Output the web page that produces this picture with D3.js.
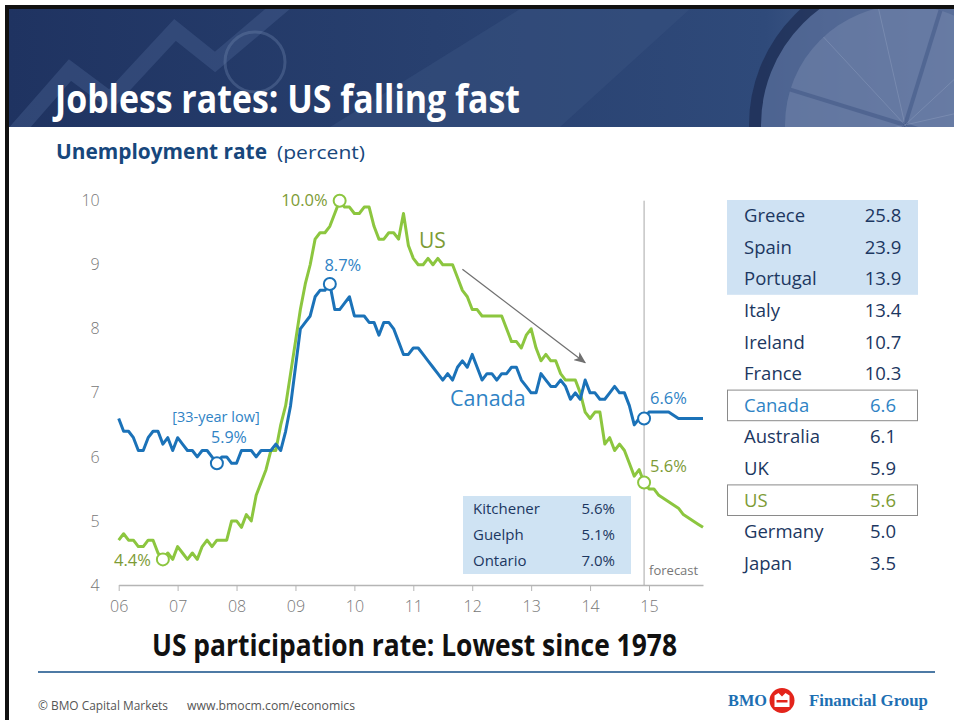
<!DOCTYPE html>
<html>
<head>
<meta charset="utf-8">
<script src="https://cdn.jsdelivr.net/npm/d3@7"></script>
<style>
    body { margin: 0; background: #fff; }
    svg { display: block; font-family: 'Open Sans', 'Noto Sans', sans-serif; }
</style>
</head>
<body>
<div id="content"></div>
<script>
// ******* DATA *******
// monthly, Jan 2006 .. Dec 2015 (2015 = forecast)
const yearLabels = ["06", "07", "08", "09", "10", "11", "12", "13", "14", "15"];

const canadaRate = [
    6.6, 6.4, 6.4, 6.3, 6.1, 6.1, 6.3, 6.4, 6.4, 6.2, 6.3, 6.1,   // 2006
    6.3, 6.2, 6.1, 6.1, 6.0, 6.1, 6.1, 6.0, 5.9, 6.0, 6.0, 5.9,   // 2007
    5.9, 6.1, 6.1, 6.1, 6.0, 6.1, 6.1, 6.1, 6.2, 6.1, 6.4, 6.8,   // 2008
    7.4, 8.0, 8.1, 8.2, 8.5, 8.6, 8.6, 8.7, 8.3, 8.3, 8.4, 8.5,   // 2009
    8.2, 8.2, 8.2, 8.1, 8.1, 7.9, 8.1, 8.1, 8.0, 7.8, 7.6, 7.6,   // 2010
    7.7, 7.7, 7.6, 7.5, 7.4, 7.3, 7.2, 7.3, 7.2, 7.4, 7.5, 7.4,   // 2011
    7.6, 7.4, 7.2, 7.3, 7.3, 7.2, 7.3, 7.3, 7.4, 7.4, 7.2, 7.1,   // 2012
    7.0, 7.0, 7.3, 7.2, 7.1, 7.1, 7.2, 7.1, 6.9, 7.0, 6.9, 7.2,   // 2013
    7.0, 7.0, 6.9, 6.9, 7.0, 7.1, 7.0, 7.0, 6.8, 6.5, 6.6, 6.6,   // 2014
    6.7, 6.7, 6.7, 6.7, 6.7, 6.65, 6.6, 6.6, 6.6, 6.6, 6.6, 6.6   // 2015 f
];

const usRate = [
    4.7, 4.8, 4.7, 4.7, 4.6, 4.6, 4.7, 4.7, 4.5, 4.4, 4.5, 4.4,   // 2006
    4.6, 4.5, 4.4, 4.5, 4.4, 4.6, 4.7, 4.6, 4.7, 4.7, 4.7, 5.0,   // 2007
    5.0, 4.9, 5.1, 5.0, 5.4, 5.6, 5.8, 6.1, 6.1, 6.5, 6.8, 7.3,   // 2008
    7.8, 8.3, 8.7, 9.0, 9.4, 9.5, 9.5, 9.6, 9.8, 10.0, 9.9, 9.9,  // 2009
    9.8, 9.8, 9.9, 9.9, 9.6, 9.4, 9.4, 9.5, 9.5, 9.4, 9.8, 9.3,   // 2010
    9.1, 9.0, 9.0, 9.1, 9.0, 9.1, 9.0, 9.0, 9.0, 8.8, 8.6, 8.5,   // 2011
    8.3, 8.3, 8.2, 8.2, 8.2, 8.2, 8.2, 8.0, 7.8, 7.8, 7.7, 7.9,   // 2012
    8.0, 7.7, 7.5, 7.6, 7.5, 7.5, 7.3, 7.2, 7.2, 7.2, 7.0, 6.7,   // 2013
    6.6, 6.7, 6.7, 6.2, 6.3, 6.1, 6.2, 6.1, 5.9, 5.7, 5.8, 5.6,   // 2014
    5.5, 5.5, 5.4, 5.35, 5.3, 5.25, 5.2, 5.1, 5.05, 5.0, 4.95, 4.9 // 2015 f
];

const forecastStart = 107;            // Dec 2014 = last actual
const usCallouts = [9, 45, forecastStart];      // 4.4%, 10.0%, 5.6%
const canadaCallouts = [20, 43, forecastStart]; // 5.9%, 8.7%, 6.6%
const trendArrow = [[70, 8.93], [95, 7.47]];    // [month index, rate]

const countryNames = ["Greece", "Spain", "Portugal", "Italy", "Ireland", "France",
    "Canada", "Australia", "UK", "US", "Germany", "Japan"];
const countryRates = ["25.8", "23.9", "13.9", "13.4", "10.7", "10.3",
    "6.6", "6.1", "5.9", "5.6", "5.0", "3.5"];
const shadedCountries = ["Greece", "Spain", "Portugal"];

const localNames = ["Kitchener", "Guelph", "Ontario"];
const localRates = ["5.6%", "5.1%", "7.0%"];

// ******* COLOURS *******
const US_GREEN = "#8cc63f";
const US_TEXT = "#7d9b35";
const CA_BLUE = "#1b72b8";
const CA_TEXT = "#2f83c5";
const NAVY = "#1c3761";
const SERIF = "'Liberation Serif', 'DejaVu Serif', serif";

// ******* SVG *******
const W = 954, H = 720;
const svg = d3.select("#content").append("svg")
    .attr("width", W)
    .attr("height", H);

drawBanner();
drawChart();
drawTable();
drawFooter();

function drawBanner() {
    const defs = svg.append("defs");
    const grad = defs.append("linearGradient").attr("id", "banner-grad");
    grad.append("stop").attr("offset", "0%").attr("stop-color", "#1f3361");
    grad.append("stop").attr("offset", "45%").attr("stop-color", "#28406f");
    grad.append("stop").attr("offset", "80%").attr("stop-color", "#2f4a7a");
    grad.append("stop").attr("offset", "100%").attr("stop-color", "#586d98");

    defs.append("clipPath").attr("id", "banner-clip")
        .append("rect").attr("x", 9).attr("y", 9).attr("width", W - 9).attr("height", 118);

    const g = svg.append("g").attr("clip-path", "url(#banner-clip)");
    g.append("rect").attr("x", 9).attr("y", 9).attr("width", W - 9).attr("height", 118)
        .attr("fill", "url(#banner-grad)");

    // lighter diagonal sweep
    g.append("path")
        .attr("d", "M330,127 L520,9 L690,9 L560,127 Z")
        .attr("fill", "#38517f").attr("opacity", 0.5);

    // zigzag arrow in the backdrop
    g.append("path")
        .attr("d", "M0,150 L70,70 L110,100 L175,30 L215,62 L300,-10")
        .attr("fill", "none").attr("stroke", "#42598a").attr("stroke-width", 16)
        .attr("opacity", 0.5);

    // faint lens ring
    g.append("circle").attr("cx", 255).attr("cy", 62).attr("r", 30)
        .attr("fill", "none").attr("stroke", "#7086b0").attr("stroke-width", 3).attr("opacity", 0.35);

    // compass on the right
    g.append("circle").attr("cx", 905).attr("cy", 125).attr("r", 150)
        .attr("fill", "#5a6f9b").attr("stroke", "#1d2c52").attr("stroke-width", 12).attr("opacity", 0.7);
    g.append("circle").attr("cx", 905).attr("cy", 125).attr("r", 120)
        .attr("fill", "#7587ae").attr("opacity", 0.5);
    d3.range(12).forEach(k => {
        const a = k * Math.PI / 6 + 0.3;
        g.append("line")
            .attr("x1", 905).attr("y1", 125)
            .attr("x2", 905 + Math.cos(a) * 120).attr("y2", 125 + Math.sin(a) * 120)
            .attr("stroke", k % 3 === 0 ? "#2d4476" : "#9aa9c8")
            .attr("stroke-width", k % 3 === 0 ? 4 : 1).attr("opacity", 0.35);
    });

    // black frame lines
    svg.append("rect").attr("x", 5).attr("y", 5).attr("width", W - 5).attr("height", 4).attr("fill", "#111");
    svg.append("rect").attr("x", 5).attr("y", 5).attr("width", 4).attr("height", H - 5).attr("fill", "#111");

    svg.append("text")
        .attr("x", 55).attr("y", 113)
        .attr("font-size", 39).attr("font-weight", 700)
        .attr("fill", "#fff")
        .attr("textLength", 465).attr("lengthAdjust", "spacingAndGlyphs")
        .text("Jobless rates: US falling fast");

    svg.append("text")
        .attr("x", 56).attr("y", 159)
        .attr("font-size", 21).attr("font-weight", 700)
        .attr("fill", "#17477c")
        .attr("textLength", 211).attr("lengthAdjust", "spacingAndGlyphs")
        .text("Unemployment rate");
    svg.append("text")
        .attr("x", 277).attr("y", 159)
        .attr("font-size", 18)
        .attr("fill", "#17477c")
        .attr("textLength", 88).attr("lengthAdjust", "spacingAndGlyphs")
        .text("(percent)");
}

function drawChart() {
    const x = d3.scaleLinear().domain([0, usRate.length - 1]).range([118.7, 703]);
    const y = d3.scaleLinear().domain([4, 10]).range([585, 200.7]);

    // y axis: labels only
    const yAxis = svg.append("g")
        .attr("transform", `translate(${x(0)},0)`)
        .call(d3.axisLeft(y).tickValues(d3.range(4, 11)).tickFormat(d3.format("d"))
            .tickSize(0).tickPadding(19));
    yAxis.select(".domain").remove();
    yAxis.selectAll("text")
        .attr("font-size", 16).attr("font-weight", 300).attr("fill", "#777")
        .style("font-family", "'Open Sans', sans-serif");

    // x axis
    const xAxis = svg.append("g")
        .attr("transform", `translate(0,${y(4)})`)
        .call(d3.axisBottom(x)
            .tickValues(yearLabels.map((d, i) => i * 12))
            .tickFormat((d, i) => yearLabels[i])
            .tickSize(6).tickSizeOuter(0).tickPadding(10));
    xAxis.select(".domain").attr("stroke", "#b5b5b5").attr("stroke-width", 1.5);
    xAxis.selectAll(".tick line").attr("stroke", "#b5b5b5");
    xAxis.selectAll("text")
        .attr("font-size", 16).attr("font-weight", 300).attr("fill", "#777")
        .style("font-family", "'Open Sans', sans-serif");

    // Kitchener / Guelph / Ontario box
    const boxRows = d3.scaleBand().domain(localNames).range([496, 574]);
    svg.append("rect")
        .attr("x", 463).attr("y", 496).attr("width", 168).attr("height", 78)
        .attr("fill", "#cfe3f3");
    const local = svg.append("g").selectAll("g")
        .data(localNames)
        .join("g")
        .attr("transform", d => `translate(0,${boxRows(d) + boxRows.bandwidth() / 2})`);
    local.append("text")
        .attr("x", 473).attr("dy", "0.35em")
        .attr("font-size", 15).attr("fill", NAVY)
        .text(d => d);
    local.append("text")
        .attr("x", 615).attr("dy", "0.35em").attr("text-anchor", "end")
        .attr("font-size", 15).attr("fill", NAVY)
        .text((d, i) => localRates[i]);

    // forecast divider
    svg.append("line")
        .attr("x1", x(forecastStart)).attr("x2", x(forecastStart))
        .attr("y1", y(10)).attr("y2", y(4))
        .attr("stroke", "#a8a8a8").attr("stroke-width", 1);
    svg.append("text")
        .attr("x", x(forecastStart) + 5).attr("y", 570).attr("dy", "0.35em")
        .attr("font-size", 13).attr("fill", "#777")
        .text("forecast");

    // lines
    const line = d3.line().x((d, i) => x(i)).y(d => y(d));
    svg.append("path").datum(usRate)
        .attr("d", line)
        .attr("fill", "none").attr("stroke", US_GREEN).attr("stroke-width", 3)
        .attr("stroke-linejoin", "round");
    svg.append("path").datum(canadaRate)
        .attr("d", line)
        .attr("fill", "none").attr("stroke", CA_BLUE).attr("stroke-width", 3)
        .attr("stroke-linejoin", "round");

    // trend arrow
    svg.append("defs").append("marker")
        .attr("id", "arrowhead")
        .attr("viewBox", "0 0 12 10").attr("refX", 11).attr("refY", 5)
        .attr("markerWidth", 12).attr("markerHeight", 10)
        .attr("markerUnits", "userSpaceOnUse").attr("orient", "auto")
        .append("path").attr("d", "M0,0 L12,5 L0,10 L3,5 Z").attr("fill", "#707070");
    svg.append("line")
        .attr("x1", x(trendArrow[0][0])).attr("y1", y(trendArrow[0][1]))
        .attr("x2", x(trendArrow[1][0])).attr("y2", y(trendArrow[1][1]))
        .attr("stroke", "#707070").attr("stroke-width", 1.3)
        .attr("marker-end", "url(#arrowhead)");

    // callout circles
    svg.append("g").selectAll("circle")
        .data(usCallouts)
        .join("circle")
        .attr("cx", d => x(d)).attr("cy", d => y(usRate[d])).attr("r", 6)
        .attr("fill", "#fff").attr("stroke", US_GREEN).attr("stroke-width", 2);
    svg.append("g").selectAll("circle")
        .data(canadaCallouts)
        .join("circle")
        .attr("cx", d => x(d)).attr("cy", d => y(canadaRate[d])).attr("r", 6)
        .attr("fill", "#fff").attr("stroke", CA_BLUE).attr("stroke-width", 2);

    // callout labels
    const label = (tx, ty, str, color, size, anchor) => svg.append("text")
        .attr("x", tx).attr("y", ty).attr("dy", "0.35em")
        .attr("text-anchor", anchor || "start")
        .attr("font-size", size).attr("fill", color)
        .text(str);

    const fmt = d3.format(".1f");
    label(x(usCallouts[0]) - 12, y(usRate[usCallouts[0]]) + 1, fmt(usRate[usCallouts[0]]) + "%", US_TEXT, 16.5, "end");
    label(x(usCallouts[1]) - 12, y(usRate[usCallouts[1]]), fmt(usRate[usCallouts[1]]) + "%", US_TEXT, 16.5, "end");
    label(x(forecastStart) + 6, y(usRate[forecastStart]) - 16, fmt(usRate[forecastStart]) + "%", US_TEXT, 16.5);

    label(x(canadaCallouts[1]) + 13, y(canadaRate[canadaCallouts[1]]) - 19, fmt(canadaRate[canadaCallouts[1]]) + "%", CA_TEXT, 16.5, "middle");
    label(x(canadaCallouts[0]) - 1, y(canadaRate[canadaCallouts[0]]) - 46, "[33-year low]", CA_TEXT, 14.5, "middle");
    label(x(canadaCallouts[0]) + 12, y(canadaRate[canadaCallouts[0]]) - 25.5, fmt(canadaRate[canadaCallouts[0]]) + "%", CA_TEXT, 16, "middle");
    label(x(forecastStart) + 6, y(canadaRate[forecastStart]) - 20, fmt(canadaRate[forecastStart]) + "%", CA_TEXT, 16.5);

    label(419, 241, "US", US_TEXT, 21);
    label(450, 398, "Canada", CA_TEXT, 21.5);

    // bottom headline
    svg.append("text")
        .attr("x", 152).attr("y", 656)
        .attr("font-size", 30).attr("font-weight", 700).attr("fill", "#111")
        .attr("textLength", 525).attr("lengthAdjust", "spacingAndGlyphs")
        .text("US participation rate: Lowest since 1978");
}

function drawTable() {
    const rows = d3.scaleBand().domain(countryNames).range([200, 579.2]);

    svg.append("rect")
        .attr("x", 727).attr("y", rows(shadedCountries[0]))
        .attr("width", 191).attr("height", rows.step() * shadedCountries.length)
        .attr("fill", "#cfe2f3");

    ["Canada", "US"].forEach(c => {
        svg.append("rect")
            .attr("x", 727.5).attr("y", rows(c) + 0.5)
            .attr("width", 190).attr("height", rows.step() - 1)
            .attr("fill", "none").attr("stroke", "#8a8a8a").attr("stroke-width", 1);
    });

    const colorOf = d => d === "Canada" ? CA_TEXT : d === "US" ? US_TEXT : NAVY;
    const row = svg.append("g").selectAll("g")
        .data(countryNames)
        .join("g")
        .attr("transform", d => `translate(0,${rows(d) + rows.step() / 2})`);
    row.append("text")
        .attr("x", 744).attr("dy", "0.35em")
        .attr("font-size", 18.5).attr("fill", colorOf)
        .text(d => d);
    row.append("text")
        .attr("x", 883).attr("dy", "0.35em").attr("text-anchor", "middle")
        .attr("font-size", 18.5).attr("fill", colorOf)
        .text((d, i) => countryRates[i]);
}

function drawFooter() {
    svg.append("line")
        .attr("x1", 38).attr("x2", 935).attr("y1", 672).attr("y2", 672)
        .attr("stroke", "#4d7aa5").attr("stroke-width", 2);

    svg.append("text")
        .attr("x", 38).attr("y", 710)
        .attr("font-size", 12).attr("fill", "#555")
        .attr("textLength", 130).attr("lengthAdjust", "spacingAndGlyphs")
        .text("© BMO Capital Markets");
    svg.append("text")
        .attr("x", 187).attr("y", 710)
        .attr("font-size", 12).attr("fill", "#555")
        .attr("textLength", 168).attr("lengthAdjust", "spacingAndGlyphs")
        .text("www.bmocm.com/economics");

    // BMO logo
    svg.append("text")
        .attr("x", 728).attr("y", 706)
        .style("font-family", SERIF)
        .attr("font-size", 17).attr("font-weight", 700).attr("fill", "#1d6fb3")
        .attr("textLength", 39).attr("lengthAdjust", "spacingAndGlyphs")
        .text("BMO");
    svg.append("circle").attr("cx", 782).attr("cy", 700.5).attr("r", 12.5).attr("fill", "#e3241b");
    svg.append("path")
        .attr("d", "M774.5,707 L774.5,695.5 L778.5,693 L782,696.5 L785.5,693 L789.5,695.5 L789.5,707 Z")
        .attr("fill", "#fff");
    svg.append("rect").attr("x", 776.5).attr("y", 700).attr("width", 11).attr("height", 2.5).attr("fill", "#e3241b");
    svg.append("text")
        .attr("x", 809).attr("y", 706)
        .style("font-family", SERIF)
        .attr("font-size", 17).attr("font-weight", 700).attr("fill", "#1d6fb3")
        .attr("textLength", 119).attr("lengthAdjust", "spacingAndGlyphs")
        .text("Financial Group");
}
</script>
</body>
</html>
